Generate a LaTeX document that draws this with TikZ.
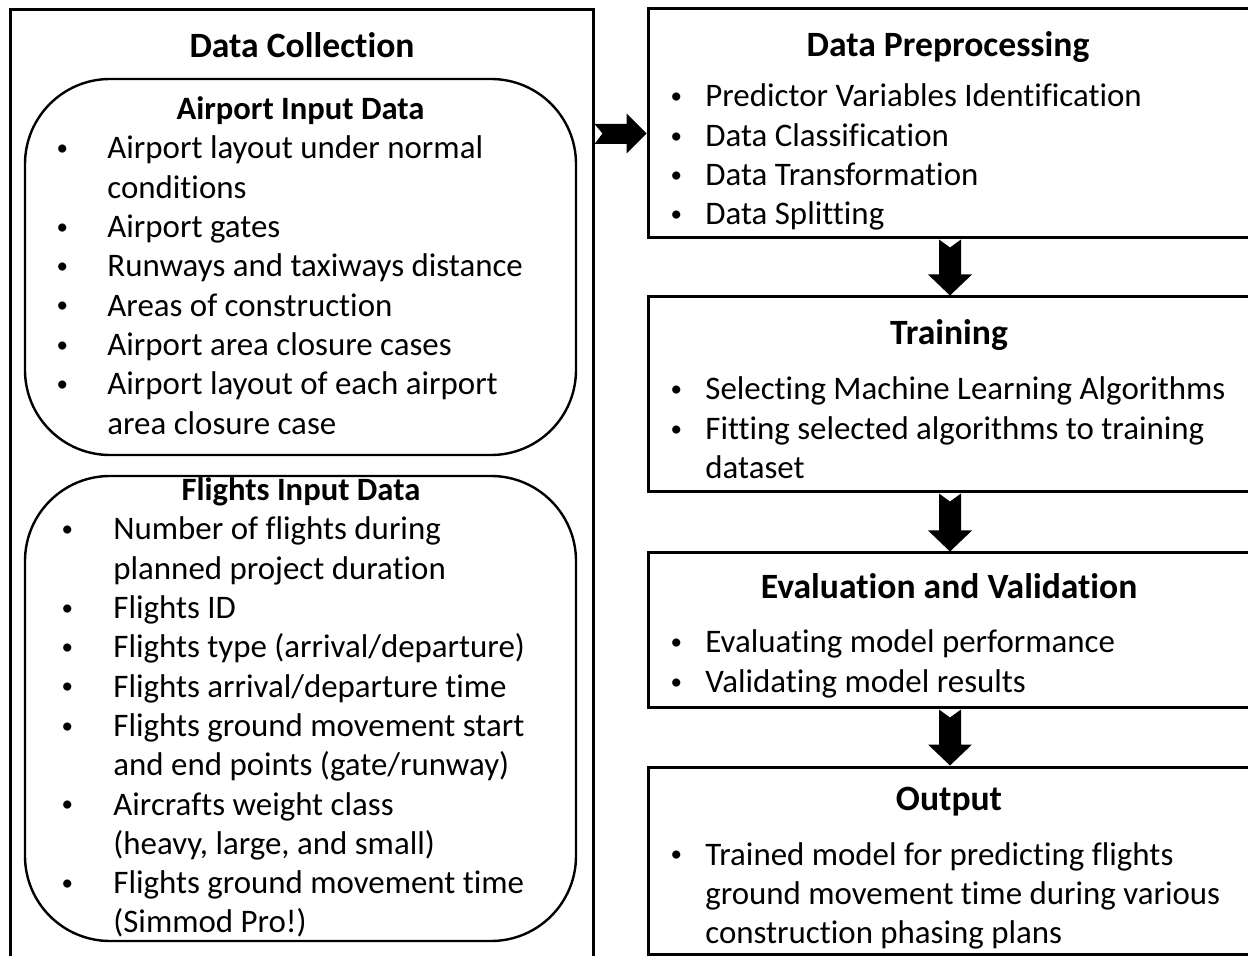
\documentclass[tikz,border=0pt]{standalone}
\usepackage{graphicx}
\usepackage{fontspec}
\setmainfont{Carlito}[Ligatures={NoCommon}]
\usetikzlibrary{calc}
\newcommand{\blk}[1]{\parbox[t]{560pt}{\raggedright #1}}
\newcommand{\dotb}{\makebox[0pt]{\raisebox{1.6pt}{\scalebox{0.7}{•}}}}
\newcommand{\bulA}{\leavevmode\llap{\dotb\hspace{22.5pt}}}
\newcommand{\bulB}{\leavevmode\llap{\dotb\hspace{23pt}}}
\newcommand{\bulC}{\leavevmode\llap{\dotb\hspace{14.5pt}}}
\newcommand{\blockdown}[2]{%
  \fill let \p1=(#1.south), \p2=(#2.north) in
    (\x1-5.5pt,\y1) -- (\x1,\y1-4pt) -- (\x1+5.5pt,\y1) -- (\x1+5.5pt,\y2+10.5pt)
    -- (\x1+11pt,\y2+10.5pt) -- (\x1,\y2) -- (\x1-11pt,\y2+10.5pt)
    -- (\x1-5.5pt,\y2+10.5pt) -- cycle;}
\begin{document}
\begin{tikzpicture}[x=0.5pt,y=-0.5pt,
  outerbox/.style={draw, line width=1.5pt, rectangle, inner sep=0pt},
  roundbox/.style={draw, line width=1.2pt, rectangle, rounded corners=42.5pt, inner sep=0pt},
  head/.style={font=\bfseries\fontsize{17.8}{21}\selectfont, anchor=base, inner sep=0pt},
  subhead/.style={font=\bfseries\fontsize{16.3}{19.65}\selectfont, anchor=base, inner sep=0pt},
  itemlist/.style={font=\fontsize{16.45}{19.65}\selectfont, anchor=base west, inner sep=0pt}]
\useasboundingbox (0,0) rectangle (1248,956);
\clip (0,0) rectangle (1248,956);
\fill[white] (0,0) rectangle (1248,956);

% boxes
\node[outerbox, minimum width=291.5pt, minimum height=480pt] (coll) at (301.5,490) {};
\node[roundbox, minimum width=275.5pt, minimum height=188pt] (air) at (300.5,267) {};
\node[roundbox, minimum width=275.5pt, minimum height=232.5pt] (fli) at (300.5,708.5) {};
\node[outerbox, minimum width=302pt, minimum height=114.5pt] (dp) at (950,123.5) {};
\node[outerbox, minimum width=302pt, minimum height=97.5pt] (tr) at (950,394.5) {};
\node[outerbox, minimum width=302pt, minimum height=77.5pt] (ev) at (950,630.5) {};
\node[outerbox, minimum width=302pt, minimum height=93.5pt] (out) at (950,860.5) {};

% texts
\node[head] (hcoll) at (302,58) {Data Collection};
\node[subhead] (hair) at (300.5,120) {Airport Input Data};
\node[itemlist] (lair) at (107,159) {\blk{\bulA Airport layout under normal\\
conditions\\
\bulA Airport gates\\
\bulA Runways and taxiways distance\\
\bulA Areas of construction\\
\bulA Airport area closure cases\\
\bulA Airport layout of each airport\\
area closure case}};
\node[subhead] (hfli) at (301,501) {Flights Input Data};
\node[itemlist] (lfli) at (113,540) {\blk{\bulB Number of flights during\\
planned project duration\\
\bulB Flights ID\\
\bulB Flights type (arrival/departure)\\
\bulB Flights arrival/departure time\\
\bulB Flights ground movement start\\
and end points (gate/runway)\\
\bulB Aircrafts weight class\\
(heavy, large, and small)\\
\bulB Flights ground movement time\\
(Simmod Pro!)}};

\node[head] (hdp) at (948,57) {Data Preprocessing};
\node[itemlist] (ldp) at (705,107) {\blk{\bulC Predictor Variables Identification\\
\bulC Data Classification\\
\bulC Data Transformation\\
\bulC Data Splitting}};
\node[head] (htr) at (949,345) {Training};
\node[itemlist] (ltr) at (705,400) {\blk{\bulC Selecting Machine Learning Algorithms\\
\bulC Fitting selected algorithms to training\\
dataset}};
\node[head] (hev) at (949,599) {Evaluation and Validation};
\node[itemlist] (lev) at (705,653) {\blk{\bulC Evaluating model performance\\
\bulC Validating model results}};
\node[head] (hout) at (949,810) {Output};
\node[itemlist] (lout) at (705,865) {\blk{\bulC Trained model for predicting flights\\
ground movement time during various\\
construction phasing plans}};

% arrows
\fill let \p1=(coll.east), \p2=(dp.west) in
  (\x1,\y2-0.25pt) -- (\x1+4pt,\y2-5pt) -- (\x1,\y2-10.25pt)
  -- (\x2-10pt,\y2-10.25pt) -- (\x2-10pt,\y2-15pt) -- (\x2,\y2-5pt)
  -- (\x2-10pt,\y2+5pt) -- (\x2-10pt,\y2-0.25pt) -- cycle;
\blockdown{dp}{tr}
\blockdown{tr}{ev}
\blockdown{ev}{out}
\end{tikzpicture}
\end{document}
